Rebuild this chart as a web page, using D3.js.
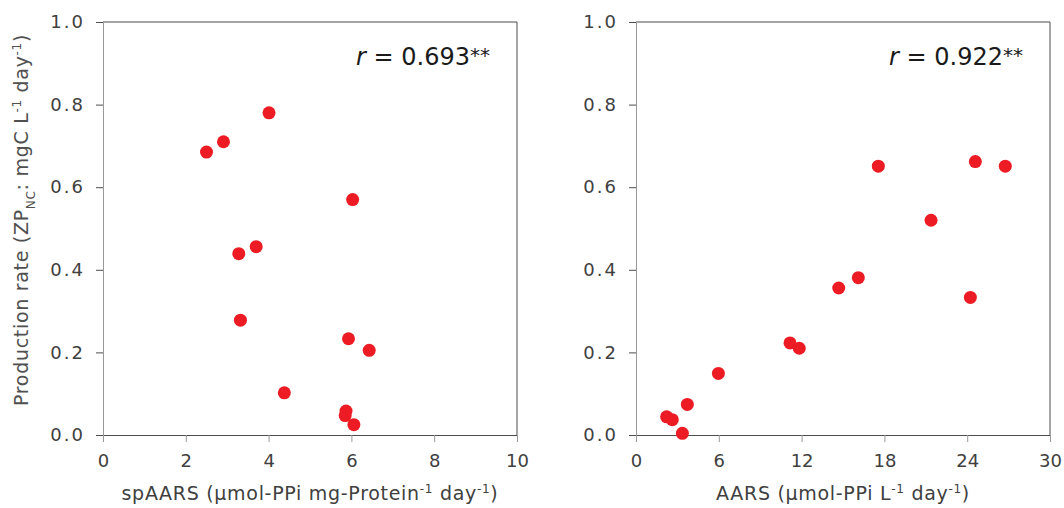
<!DOCTYPE html>
<html>
<head>
<meta charset="utf-8">
<script src="https://cdn.jsdelivr.net/npm/d3@7/dist/d3.min.js"></script>
<style>
  html, body { margin: 0; padding: 0; background: #fff; }
  svg { display: block; font-family: "DejaVu Sans", sans-serif; }
</style>
</head>
<body>
<svg id="chart" width="1064" height="508"></svg>
<script>
// Panel (a): specific AARS activity vs. zooplankton production
const spAARS = [4.01, 2.91, 2.50, 6.03, 3.70, 3.28, 3.32, 5.93, 6.43, 4.38, 5.87, 5.85, 6.06];
const prodA  = [0.780, 0.710, 0.685, 0.570, 0.456, 0.439, 0.278, 0.233, 0.205, 0.102, 0.058, 0.047, 0.025];

// Panel (b): volumetric AARS activity vs. zooplankton production
const AARS  = [2.22, 2.63, 3.36, 3.72, 5.97, 11.16, 11.83, 14.69, 16.11, 17.56, 21.38, 24.23, 24.59, 26.76];
const prodB = [0.044, 0.037, 0.004, 0.074, 0.149, 0.223, 0.210, 0.356, 0.381, 0.651, 0.520, 0.333, 0.662, 0.651];

const yTicks  = [0, 0.2, 0.4, 0.6, 0.8, 1.0];
const xTicksA = [0, 2, 4, 6, 8, 10];
const xTicksB = [0, 6, 12, 18, 24, 30];
const rLabels = ["0.693", "0.922"];

const svg = d3.select("#chart");
const plotTop = 22, plotBottom = 435;
const textColor = "#404040";
const dotColor = "#ED1C24";

const panels = [
  { x0: 103, x1: 517, xs: spAARS, ys: prodA, xDomain: [0, 10], xTicks: xTicksA, r: rLabels[0],
    title: [["spAARS (µmol-PPi mg-Protein", 0], ["-1", 1], [" day", 0], ["-1", 1], [")", 0]] },
  { x0: 636, x1: 1050, xs: AARS, ys: prodB, xDomain: [0, 30], xTicks: xTicksB, r: rLabels[1],
    title: [["AARS (µmol-PPi L", 0], ["-1", 1], [" day", 0], ["-1", 1], [")", 0]] }
];

const y = d3.scaleLinear().domain([0, 1]).range([plotBottom, plotTop]);

panels.forEach(p => {
  const x = d3.scaleLinear().domain(p.xDomain).range([p.x0, p.x1]);
  const g = svg.append("g");

  // frame: top and right edges
  g.append("path")
    .attr("d", `M${p.x0},${plotTop}H${p.x1}V${plotBottom}`)
    .attr("fill", "none").attr("stroke", "#4d4d4d").attr("stroke-width", 1);

  // y axis
  const yAxis = g.append("g").attr("transform", `translate(${p.x0},0)`)
    .call(d3.axisLeft(y).tickValues(yTicks).tickFormat(d3.format(".1f")).tickSize(7).tickPadding(11));
  yAxis.select(".domain").attr("stroke", "#999");
  yAxis.selectAll(".tick line").attr("stroke", "#4d4d4d");
  yAxis.selectAll(".tick text").attr("fill", textColor).style("font-size", "18px")
    .style("font-family", "DejaVu Sans").style("letter-spacing", "2px");

  // x axis
  const xAxis = g.append("g").attr("transform", `translate(0,${plotBottom})`)
    .call(d3.axisBottom(x).tickValues(p.xTicks).tickFormat(d3.format("d")).tickSize(7).tickPadding(12));
  xAxis.select(".domain").attr("stroke", "#4d4d4d");
  xAxis.selectAll(".tick line").attr("stroke", "#999");
  xAxis.selectAll(".tick text").attr("fill", textColor).style("font-size", "18px")
    .style("font-family", "DejaVu Sans");

  // x axis title with superscripts
  const t = g.append("text")
    .attr("x", (p.x0 + p.x1) / 2).attr("y", 500)
    .attr("text-anchor", "middle").attr("fill", textColor)
    .style("font-size", "19px").style("letter-spacing", "0.7px");
  p.title.forEach(([s, sup]) => {
    const ts = t.append("tspan").text(s);
    if (sup) ts.attr("baseline-shift", "super").style("font-size", "12px");
  });

  // points
  g.selectAll("circle.pt").data(p.xs.map((d, i) => [d, p.ys[i]]))
    .join("circle").attr("class", "pt")
    .attr("cx", d => x(d[0])).attr("cy", d => y(d[1]))
    .attr("r", 6.5).attr("fill", dotColor);

  // correlation annotation
  const r = g.append("text")
    .attr("x", p.x1 - 27).attr("y", 65)
    .attr("text-anchor", "end").attr("fill", "#1a1a1a")
    .style("font-size", "24px");
  r.append("tspan").text("r").style("font-style", "italic");
  r.append("tspan").text(" = " + p.r);
  r.append("tspan").text("**").attr("dy", -3).style("font-size", "20px");
});

// shared y axis title
const yt = svg.append("text")
  .attr("transform", "translate(28,220) rotate(-90)")
  .attr("text-anchor", "middle").attr("fill", "#505050")
  .style("font-size", "19px").style("letter-spacing", "0.7px");
yt.append("tspan").text("Production rate (ZP");
yt.append("tspan").text("NC").attr("baseline-shift", "sub").style("font-size", "12px");
yt.append("tspan").text(": mgC L");
yt.append("tspan").text("-1").attr("baseline-shift", "super").style("font-size", "12px");
yt.append("tspan").text(" day");
yt.append("tspan").text("-1").attr("baseline-shift", "super").style("font-size", "12px");
yt.append("tspan").text(")");
</script>
</body>
</html>
